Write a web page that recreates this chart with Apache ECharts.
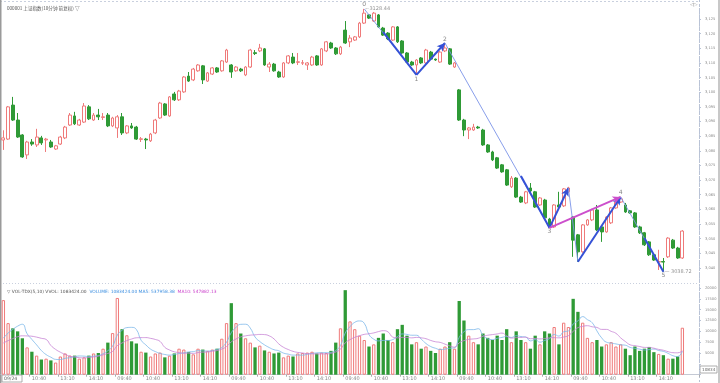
<!DOCTYPE html>
<html><head><meta charset="utf-8">
<script src="https://cdn.jsdelivr.net/npm/echarts@6/dist/echarts.min.js"></script>
<style>html,body{margin:0;padding:0;background:#fff}#c{width:720px;height:383px}</style>
</head><body><div id="c"></div>
<script>
// ---- data ----
const dayTimes = ["09:40","09:50","10:00","10:10","10:20","10:30","10:40","10:50","11:00","11:10","11:20","11:30",
                  "13:10","13:20","13:30","13:40","13:50","14:00","14:10","14:20","14:30","14:40","14:50","15:00"];
const dayCount = 6;
const padSlots = 3;

const opens = [3083.7,3084.0,3095.6,3090.5,3085.4,3078.6,3083.0,3082.0,3084.4,3083.7,
3083.0,3080.6,3082.3,3084.4,3088.8,3091.9,3088.8,3089.8,3095.0,3090.5,
3092.2,3091.4,3092.2,3088.5,3087.8,3091.6,3086.1,3088.5,3088.1,3083.9,
3084.0,3083.4,3086.1,3091.2,3096.0,3091.9,3099.4,3097.4,3100.1,3105.5,
3104.2,3107.3,3109.0,3103.8,3106.2,3108.3,3107.3,3110.3,3109.3,3107.3,
3107.9,3105.9,3108.6,3113.5,3114.1,3114.8,3108.6,3109.6,3106.9,3105.2,
3110.0,3112.0,3110.2,3109.9,3109.3,3109.3,3112.4,3109.3,3114.1,3116.8,
3115.1,3113.1,3121.2,3117.2,3117.8,3118.9,3123.6,3126.4,3124.3,3126.4,
3121.9,3120.2,3117.8,3122.3,3117.5,3113.4,3110.3,3109.3,3111.7,3110.0,
3113.7,3111.3,3110.3,3114.1,3114.8,3108.6,3100.8,3090.5,3087.1,3087.1,
3088.1,3087.1,3082.0,3079.6,3077.6,3075.2,3073.5,3067.7,3070.7,3064.2,
3062.2,3067.3,3066.0,3061.5,3063.2,3056.7,3054.0,3061.5,3061.2,3066.0,
3057.4,3051.3,3045.5,3054.7,3056.4,3059.8,3054.0,3052.3,3055.4,3060.5,
3062.5,3061.5,3059.5,3058.8,3054.0,3052.0,3048.9,3044.5,3042.0,3042.2,
3043.8,3049.5,3046.8,3043.4];
const closes = [3084.4,3095.0,3090.5,3084.7,3077.9,3083.0,3082.3,3084.7,3082.7,3084.0,
3081.3,3081.7,3084.7,3088.1,3092.2,3089.2,3090.5,3095.3,3090.9,3092.2,
3091.6,3091.6,3088.5,3091.2,3091.6,3086.1,3088.5,3087.8,3084.0,3084.1,
3083.7,3085.7,3090.5,3096.3,3092.2,3098.4,3097.4,3100.4,3105.2,3103.8,
3107.9,3109.3,3104.2,3106.6,3108.3,3106.9,3110.7,3114.4,3106.9,3108.6,
3107.3,3108.6,3114.4,3113.2,3115.1,3109.3,3109.6,3107.3,3105.2,3110.0,
3112.4,3110.0,3110.4,3110.1,3110.0,3112.0,3109.3,3114.8,3117.2,3115.1,
3113.1,3115.4,3116.8,3118.5,3118.9,3123.6,3127.0,3125.3,3127.0,3122.3,
3119.5,3118.2,3122.3,3117.2,3113.4,3110.3,3109.3,3111.0,3110.0,3114.4,
3111.3,3111.0,3113.7,3115.1,3109.6,3110.0,3090.5,3087.1,3087.8,3088.1,
3087.8,3082.0,3079.6,3076.9,3074.1,3072.8,3068.3,3070.7,3064.2,3062.5,
3066.0,3066.3,3060.8,3063.9,3057.1,3054.0,3061.5,3060.8,3067.0,3067.3,
3049.5,3045.5,3054.7,3056.4,3059.8,3053.0,3052.3,3057.4,3060.5,3062.5,
3063.6,3059.1,3058.8,3054.0,3052.0,3047.9,3044.5,3042.7,3042.2,3042.0,
3050.2,3046.8,3043.4,3052.6];
const lows = [3080.3,3083.7,3090.2,3084.4,3077.6,3077.2,3081.7,3081.3,3082.0,3079.6,
3081.0,3080.3,3082.0,3084.0,3088.5,3088.8,3088.5,3089.5,3090.5,3090.2,
3090.5,3090.5,3088.1,3088.1,3084.4,3085.4,3085.7,3087.5,3083.7,3083.0,
3080.6,3083.0,3085.7,3090.9,3091.9,3091.6,3097.0,3097.0,3099.8,3103.5,
3103.8,3107.0,3102.8,3103.5,3105.9,3106.6,3107.0,3110.0,3104.9,3107.0,
3106.9,3105.5,3108.3,3112.7,3113.7,3109.0,3106.9,3107.0,3104.9,3104.9,
3109.6,3109.6,3109.3,3109.3,3107.6,3109.0,3109.0,3109.0,3113.7,3114.8,
3112.7,3112.7,3116.5,3115.4,3117.5,3118.5,3123.3,3125.0,3124.0,3122.0,
3119.2,3117.8,3117.5,3116.8,3113.1,3110.0,3109.0,3105.9,3109.6,3109.6,
3111.0,3110.7,3110.0,3113.7,3109.3,3108.3,3090.2,3085.0,3084.0,3086.8,
3087.5,3081.7,3079.3,3076.5,3073.8,3072.5,3068.0,3067.3,3063.9,3062.2,
3061.8,3065.6,3060.5,3061.2,3056.7,3053.7,3053.7,3060.5,3060.8,3065.6,
3043.8,3042.1,3045.2,3054.4,3056.0,3052.6,3048.9,3052.0,3055.0,3060.2,
3062.2,3058.8,3058.5,3053.7,3051.6,3047.5,3044.1,3042.4,3039.3,3038.72,
3043.4,3046.5,3043.1,3043.1];
const highs = [3087.0,3095.3,3098.4,3092.9,3085.7,3083.4,3084.0,3087.5,3085.1,3084.4,
3083.7,3082.0,3085.1,3088.5,3092.9,3093.3,3090.9,3096.3,3095.6,3092.9,
3094.3,3092.9,3092.9,3091.6,3092.2,3092.9,3088.8,3089.5,3088.5,3084.7,
3084.4,3086.1,3090.9,3096.7,3096.3,3098.7,3100.1,3100.8,3105.5,3106.9,
3108.3,3109.6,3109.3,3106.9,3108.6,3108.6,3111.0,3114.8,3109.6,3108.9,
3108.3,3108.9,3114.8,3114.4,3116.5,3115.1,3110.3,3110.0,3107.3,3110.3,
3112.7,3113.4,3113.4,3111.0,3110.3,3112.4,3112.7,3115.1,3117.5,3117.2,
3115.4,3115.8,3124.3,3119.5,3119.2,3124.0,3128.44,3126.7,3127.4,3126.7,
3122.3,3120.5,3122.6,3122.6,3117.8,3113.7,3110.7,3111.3,3112.0,3114.8,
3114.1,3111.5,3114.1,3116.8,3115.1,3110.3,3101.1,3090.9,3088.1,3089.2,
3088.5,3087.5,3082.3,3080.0,3077.9,3075.5,3073.8,3071.4,3071.0,3064.6,
3066.3,3069.0,3066.3,3064.2,3063.6,3057.1,3061.8,3066.0,3067.3,3067.7,
3057.7,3051.6,3055.0,3056.7,3060.2,3061.5,3054.4,3057.7,3060.8,3062.9,
3064.25,3062.2,3059.8,3059.1,3054.4,3052.3,3049.2,3044.8,3046.2,3043.4,
3050.5,3049.9,3047.2,3052.9];
// volume in hundreds
const prevVolumes = [6500,6000,5800,6200,6600,6000,6400,6300,6200];
const volumes = [17200,11900,10700,10000,8400,6300,5300,4400,3500,3700,
3300,2800,4200,4900,4400,4400,3700,4000,4400,4900,
5000,6000,7400,9600,17700,10500,9100,7700,7200,5300,
5100,4200,4900,5100,4000,4400,4900,6000,5800,5200,
4700,6000,5800,5500,5800,6000,8300,11900,16500,11900,
9500,8400,7400,6300,6700,5600,5300,4900,5100,4000,
4400,4200,4900,5000,5100,5300,4900,5100,5000,5500,
7400,10700,19500,12300,10500,9000,8000,6500,7000,8500,
9500,8000,7500,10500,11500,9000,7000,7500,6000,6500,
5500,5000,6000,6500,7500,6000,17000,12500,9000,7500,
7000,9500,8500,8000,9000,8000,10500,7500,10000,8000,
7500,6000,9000,7000,10000,9500,11000,7000,12000,11000,
17500,14500,12000,8500,7500,8000,6500,7000,7500,6500,
7000,6000,4500,6500,5500,6000,6400,5200,4800,4500,
3700,3700,4200,10834];

// wave annotation pivots: [bar index, price]
const wavePts = {P0:[76,3128.44], P1:[87,3105.9], P2:[93,3116.8], P3:[115,3053.7],
                 A:[119,3067.3], B:[121,3042.1], P4:[130,3064.25], P5:[139,3038.72]};
const waveLabels = [["0","P0","top"],["1","P1","bottom"],["2","P2","top"],["3","P3","bottom"],["4","P4","top"],["5","P5","bottom"]];

const titleText = "000001 上证指数(10分钟 前复权) ▽";
const volHeader = ["▽ VOL-TDX(5,10) VVOL: 1083424.00", "VOLUME: 1083424.00 MA5: 537958.38", "MA10: 547882.13"];
const cornerBoxLeft = "09/24";
const cornerBoxRight = "10834";

// ---- build ----
const UP = '#ef7a7a', DN = '#2f9a36';
const categories = [];
for (let d = 0; d < dayCount; d++) dayTimes.forEach(t => categories.push(t));
for (let k = 0; k < padSlots; k++) categories.push('');
const nBars = opens.length;

const candleData = opens.map((o, i) => [o, closes[i], lows[i], highs[i]]);
const volData = volumes.map((v, i) => ({
  value: v,
  itemStyle: closes[i] >= opens[i]
    ? {color: '#fff', borderColor: UP, borderWidth: 1}
    : {color: DN, borderColor: DN, borderWidth: 0}
}));
const allVol = prevVolumes.concat(volumes);
function ma(n) {
  const off = prevVolumes.length;
  return volumes.map((v, i) => {
    const j = i + off; const s = Math.max(0, j - n + 1);
    let sum = 0; for (let k = s; k <= j; k++) sum += allVol[k];
    return +(sum / (j - s + 1)).toFixed(1);
  });
}
function lerp(a, b, t) { return [a[0] + (b[0] - a[0]) * t, a[1] + (b[1] - a[1]) * t]; }
const thickBlue = {color: '#3551d6', width: 2, type: 'solid'};
const thinBlue = {color: '#7b93e8', width: 0.9, type: 'solid'};
const magenta = {color: '#cc4fcc', width: 2, type: 'solid'};
function seg(a, b, style, arrow) {
  return [{coord: a, symbol: 'none', lineStyle: style},
          {coord: b, symbol: arrow ? 'arrow' : 'none', symbolSize: arrow ? [6, 8] : 0, lineStyle: style}];
}
const W = wavePts;
const markLines = [
  seg(W.P0, W.P1, thinBlue), seg(lerp(W.P0, W.P1, 0.35), W.P1, thickBlue),
  seg(W.P1, W.P2, thickBlue, true),
  seg(W.P2, W.P3, thinBlue), seg(lerp(W.P2, W.P3, 0.72), W.P3, thickBlue),
  seg(W.P3, W.A, thickBlue, true),
  seg(W.A, W.B, thinBlue),
  seg(W.B, W.P4, thickBlue, true),
  seg(W.P3, W.P4, magenta, true),
  seg(W.P4, W.P5, thinBlue), seg(lerp(W.P4, W.P5, 0.55), W.P5, thickBlue)
];
const labelPts = waveLabels.map(([t, k, pos]) => ({
  value: W[k], label: {show: true, formatter: t, position: pos, distance: 1, fontSize: 6, color: '#666', fontFamily: 'DejaVu Sans'}
}));
labelPts.push({value: W.P0, label: {show: true, formatter: '⌐' + W.P0[1].toFixed(2), position: 'right', distance: 1, fontSize: 5, color: '#777', fontFamily: 'DejaVu Sans'}});
labelPts.push({value: W.P5, label: {show: true, formatter: '— ' + W.P5[1].toFixed(2), position: 'right', distance: 1, fontSize: 5, color: '#777', fontFamily: 'DejaVu Sans'}});

const FONT = 'DejaVu Sans';
const option = {
  animation: false,
  backgroundColor: '#fff',
  title: [
    {text: titleText, left: 2, top: 1, textStyle: {fontSize: 4.6, fontWeight: 'normal', color: '#555', fontFamily: 'Noto Sans CJK SC'}},
    {text: '{g|' + volHeader[0] + '}  {b|' + volHeader[1] + '}  {m|' + volHeader[2] + '}', left: 2, top: 285,
     textStyle: {fontSize: 4.4, fontWeight: 'normal', fontFamily: FONT,
       rich: {g: {color: '#555', fontSize: 4.4, fontFamily: FONT}, b: {color: '#3d8fe0', fontSize: 4.4, fontFamily: FONT}, m: {color: '#cc44cc', fontSize: 4.4, fontFamily: FONT}}}}
  ],
  grid: [
    {left: 1, right: 21, top: 4.35, height: 278.25},
    {left: 1, right: 21, top: 286, height: 88.7}
  ],
  xAxis: [
    {type: 'category', gridIndex: 0, data: categories, boundaryGap: true,
     axisLine: {show: false}, axisTick: {show: false}, axisLabel: {show: false}, splitLine: {show: false}},
    {type: 'category', gridIndex: 1, data: categories, boundaryGap: true,
     axisLine: {show: true, lineStyle: {color: '#c4c9d4', width: 1}},
     axisTick: {show: true, length: 2, interval: (i) => i > 0 && i < nBars && i % 6 === 0, lineStyle: {color: '#aaa'}},
     axisLabel: {show: true, interval: (i) => i > 0 && i < nBars && i % 6 === 0, fontSize: 5, color: '#888', fontFamily: FONT, align: 'left', margin: 2},
     splitLine: {show: false}}
  ],
  yAxis: [
    {type: 'value', gridIndex: 0, position: 'right', min: 3035, max: 3130, interval: 5, scale: true,
     axisLine: {show: true, lineStyle: {color: '#b9c3d6', type: 'dashed'}},
     axisTick: {show: true, length: 2, lineStyle: {color: '#b9c3d6'}},
     axisLabel: {fontSize: 3.6, color: '#888', fontFamily: FONT, margin: 6, showMinLabel: false, showMaxLabel: false},
     splitLine: {show: false}},
    {type: 'value', gridIndex: 1, position: 'right', min: 0, max: 20460, interval: 2500,
     axisLine: {show: true, lineStyle: {color: '#b9c3d6', type: 'dashed'}},
     axisTick: {show: true, length: 2, lineStyle: {color: '#b9c3d6'}},
     axisLabel: {fontSize: 3.6, color: '#888', fontFamily: FONT, margin: 6, showMaxLabel: false,
       formatter: (v) => v >= 5000 ? String(v) : ''},
     splitLine: {show: false}}
  ],
  series: [
    {type: 'candlestick', xAxisIndex: 0, yAxisIndex: 0, data: candleData, barWidth: 3.3,
     itemStyle: {color: '#fff', color0: DN, borderColor: UP, borderColor0: DN, borderWidth: 1}},
    {type: 'line', xAxisIndex: 0, yAxisIndex: 0, data: [], silent: true,
     markLine: {silent: true, symbol: ['none', 'none'], label: {show: false}, emphasis: {disabled: true}, animation: false, data: markLines}},
    {type: 'scatter', xAxisIndex: 0, yAxisIndex: 0, symbolSize: 0, silent: true, data: labelPts},
    {type: 'bar', xAxisIndex: 1, yAxisIndex: 1, data: volData, barWidth: 3.3},
    {type: 'line', xAxisIndex: 1, yAxisIndex: 1, data: ma(5), smooth: true, showSymbol: false, symbol: 'none',
     lineStyle: {color: '#7cb8ea', width: 0.8}},
    {type: 'line', xAxisIndex: 1, yAxisIndex: 1, data: ma(10), smooth: true, showSymbol: false, symbol: 'none',
     lineStyle: {color: '#c783d4', width: 0.8}}
  ],
  graphic: [
    {type: 'line', shape: {x1: 0, y1: 1.5, x2: 699, y2: 1.5}, style: {stroke: '#c9d0de', lineDash: [2, 2], lineWidth: 1}, silent: true},
    {type: 'line', shape: {x1: 0, y1: 283.5, x2: 699, y2: 283.5}, style: {stroke: '#c9d0de', lineDash: [1, 2], lineWidth: 1}, silent: true},
    {type: 'line', shape: {x1: 699.5, y1: 0, x2: 699.5, y2: 383}, style: {stroke: '#b9c3d6', lineDash: [2, 2], lineWidth: 1}, silent: true},
    {type: 'rect', shape: {x: 0, y: 0, width: 1.5, height: 383}, style: {fill: '#9a9a9a'}, silent: true},
    {type: 'rect', shape: {x: 718, y: 0, width: 2, height: 383}, style: {fill: '#c8c8c8'}, silent: true},
    {type: 'text', left: 690, top: 2, style: {text: '◁▷', fontSize: 5, fill: '#999', fontFamily: FONT}, silent: true},
    {type: 'rect', shape: {x: 2, y: 375, width: 20, height: 7}, style: {fill: '#fff', stroke: '#999', lineWidth: 0.8}, silent: true},
    {type: 'text', left: 4, top: 376.5, style: {text: cornerBoxLeft, fontSize: 4.6, fill: '#666', fontFamily: FONT}, silent: true},
    {type: 'rect', shape: {x: 700, y: 366, width: 17, height: 7}, style: {fill: '#fff', stroke: '#999', lineWidth: 0.8}, silent: true},
    {type: 'text', left: 702, top: 367.5, style: {text: cornerBoxRight, fontSize: 4.2, fill: '#666', fontFamily: FONT}, silent: true}
  ]
};
const chart = echarts.init(document.getElementById('c'), null, {renderer: 'canvas'});
chart.setOption(option);
</script>
</body></html>
